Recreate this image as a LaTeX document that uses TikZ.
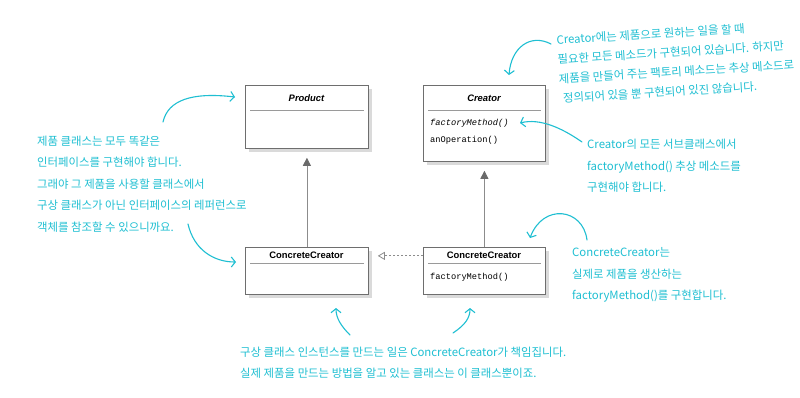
\documentclass[tikz,border=0pt]{standalone}
\usepackage{fontspec}
\setmainfont{Liberation Sans}
\setmonofont{Liberation Mono}
\newfontfamily\kr{Noto Sans CJK KR}
\usetikzlibrary{arrows.meta,shadows}
\definecolor{note}{HTML}{1FBFD2}
\definecolor{boxline}{HTML}{6E6E6E}
\definecolor{shade}{HTML}{DADADA}
\definecolor{sepline}{HTML}{9A9A9A}
\definecolor{conn}{HTML}{8C8C8C}
\definecolor{tipfill}{HTML}{6A6A6A}
\begin{document}
\begin{tikzpicture}[x=1pt,y=-1pt,
  umlbox/.style={draw=boxline, line width=0.8pt, fill=white, anchor=north west,
    inner sep=0pt, minimum width=122pt,
    drop shadow={shadow xshift=3.5pt, shadow yshift=-3.5pt, fill=shade, opacity=1}},
  umltitle/.style={anchor=base, inner sep=0pt, font=\fontsize{9.4}{11}\selectfont\bfseries},
  umlop/.style={anchor=base west, inner sep=0pt, font=\fontsize{8.7}{10}\selectfont\ttfamily},
  sepstyle/.style={draw=sepline, line width=0.6pt},
  inh/.style={draw=conn, line width=0.8pt, shorten >=9pt,
    -{Triangle[length=8pt,width=8pt,fill=tipfill,color=tipfill]}},
  realz/.style={draw=conn, line width=0.8pt, dash pattern=on 2pt off 2pt, shorten >=9pt,
    -{Triangle[open,length=7pt,width=8pt,line width=0.8pt]}},
  notetext/.style={anchor=base west, inner sep=0pt, text=note,
    font=\kr\fontsize{11.4}{13}\selectfont},
  notearrow/.style={draw=note, line width=1.1pt, line cap=round,
    -{Straight Barb[length=4pt,width=10pt,line width=1.1pt]}}
]
\useasboundingbox[fill=white] (0,0) rectangle (800,397);

% UML boxes
\node[umlbox, minimum width=123pt, minimum height=63pt] (product) at (245,85) {};
\node[umlbox, minimum width=122pt, minimum height=76pt] (creator) at (423,85) {};
\node[umlbox, minimum width=123pt, minimum height=47pt] (ccl) at (245,247) {};
\node[umlbox, minimum width=122pt, minimum height=47pt] (ccr) at (423,247) {};

% titles
\node[umltitle] (productt) at (306.5,101.5) {\itshape Product};
\node[umltitle] (creatort) at (484,101.5) {\itshape Creator};
\node[umltitle] (cclt) at (306.5,258.5) {ConcreteCreator};
\node[umltitle] (ccrt) at (484,258.5) {ConcreteCreator};

% separators
\draw[sepstyle] ([shift={(5,25)}]product.north west) -- ([shift={(-5,25)}]product.north east);
\draw[sepstyle] ([shift={(5,25)}]creator.north west) -- ([shift={(-5,25)}]creator.north east);
\draw[sepstyle] ([shift={(5,16)}]ccl.north west) -- ([shift={(-5,16)}]ccl.north east);
\draw[sepstyle] ([shift={(5,16)}]ccr.north west) -- ([shift={(-5,16)}]ccr.north east);

% operations
\node[umlop] (cfm) at (430,125) {\itshape factoryMethod()};
\node[umlop] (cao) at (430,142.5) {anOperation()};
\node[umlop] (ccrfm) at (430,279) {factoryMethod()};

% relations
\draw[inh] (ccl.north) -- (product.south);
\draw[inh] (ccr.north) -- (creator.south);
\draw[realz] (ccr.west |- ccrt.mid) -- (ccl.east |- ccrt.mid);

% left note
\node[notetext] (l1) at (37,145) {제품 클래스는 모두 똑같은};
\node[notetext] (l2) at (37,166.5) {인터페이스를 구현해야 합니다.};
\node[notetext] (l3) at (37,188) {그래야 그 제품을 사용할 클래스에서};
\node[notetext] (l4) at (37,209.5) {구상 클래스가 아닌 인터페이스의 레퍼런스로};
\node[notetext] (l5) at (37,231) {객체를 참조할 수 있으니까요.};

% top-right note (slightly tilted, one block)
\node[notetext, anchor=north west, align=left, rotate=3.5,
      font=\kr\fontsize{11.4}{19.5}\selectfont] (tr) at (556,34.5)
  {Creator에는 제품으로 원하는 일을 할 때\\
   필요한 모든 메소드가 구현되어 있습니다. 하지만\\
   제품을 만들어 주는 팩토리 메소드는 추상 메소드로\\
   \hspace{3pt}정의되어 있을 뿐 구현되어 있진 않습니다.};

% middle-right note
\node[notetext] (mr1) at (587,148) {Creator의 모든 서브클래스에서};
\node[notetext] (mr2) at (587,170) {factoryMethod() 추상 메소드를};
\node[notetext] (mr3) at (587,191.5) {구현해야 합니다.};

% lower-right note
\node[notetext] (cr1) at (572,256.5) {ConcreteCreator는};
\node[notetext] (cr2) at (572,278) {실제로 제품을 생산하는};
\node[notetext] (cr3) at (572,299.5) {factoryMethod()를 구현합니다.};

% bottom note
\node[notetext] (b1) at (240,356) {구상 클래스 인스턴스를 만드는 일은 ConcreteCreator가 책임집니다.};
\node[notetext] (b2) at (240,377) {실제 제품을 만드는 방법을 알고 있는 클래스는 이 클래스뿐이죠.};

% annotation arrows
\coordinate (a1s) at (163,122);
\coordinate (a1e) at (235,97);
\draw[notearrow] (a1s) .. controls (168,100) and (192,92) .. (a1e);
\coordinate (a2s) at (188,224);
\coordinate (a2e) at (236,262);
\draw[notearrow] (a2s) .. controls (194,250) and (214,262) .. (a2e);
\coordinate (a3s) at (551,44);
\coordinate (a3e) at (509,75);
\draw[notearrow] (a3s) .. controls (530,33) and (511,48) .. (a3e);
\coordinate (a4s) at (582,142);
\coordinate (a4e) at (520,123);
\draw[notearrow] (a4s) .. controls (562,128) and (540,118) .. (a4e);
\coordinate (a5s) at (587,240);
\coordinate (a5e) at (530,238);
\draw[notearrow] (a5s) .. controls (583,208) and (543,203) .. (a5e);
\coordinate (a6s) at (350,335);
\coordinate (a6e) at (336,308);
\draw[notearrow] (a6s) .. controls (341,326) and (336,318) .. (a6e);
\coordinate (a7s) at (453,333);
\coordinate (a7e) at (470,308);
\draw[notearrow] (a7s) .. controls (465,325) and (470,318) .. (a7e);
\end{tikzpicture}
\end{document}
